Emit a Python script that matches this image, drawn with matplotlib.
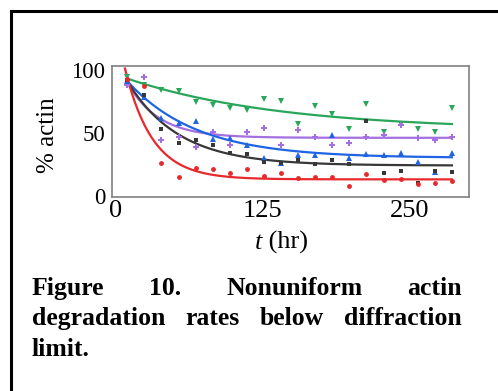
import numpy as np
import matplotlib
matplotlib.use("Agg")
import matplotlib.pyplot as plt
from matplotlib.lines import Line2D

# sampling times (hr)
t = [10, 24.5, 39, 53.5, 68, 82.5, 97, 111.5, 126, 140.5,
     155, 169.5, 184, 198.5, 213, 227.5, 242, 256.5, 271, 285.5]

# % actin remaining
green = [94, 88, 84, 83, 74.5, 72, 70, 68, 77, 75,
         57, 71, 65, 53, 73, 51, 57, 53, 51, 70]
purple = [88, 94, 44, 47, 39, 51, 40, 51, 54, 40,
          52, 47, 40, 42, 47, 48, 56, 46, 44, 47]
blue = [91, 78, 62, 58, 59, 45, 46, 40, 30, 26,
        32, 32, 48, 30, 33, 32, 34, 27, 19, 34]
black = [92, 80, 53, 42, 44, 40, 34, 33, 27, 26,
         28, 25, 28, 25, 59, 18, 20, 10, 20, 19]
red = [93, 87, 26, 15, 22, 21, 18, 21, 16, 18,
       14, 15, 15, 8, 17, 12.5, 13, 9.5, 10, 12]

# exponential fits: plateau, value at t0, rate (1/hr), t0
fit_green = (52, 93, 0.0077, 10)
fit_purple = (46, 90, 0.038, 10)
fit_blue = (30, 91, 0.017, 10)
fit_black = (24, 91, 0.023, 10)
fit_red = (13, 101, 0.043, 8)

series = [
    (green, fit_green, "#2aa65a", "v", 4),
    (purple, fit_purple, "#a46fe0", "P", 4.5),
    (blue, fit_blue, "#1f64e3", "^", 4),
    (black, fit_black, "#383838", "s", 3.5),
    (red, fit_red, "#e8292c", "o", 3.5),
]

plt.rcParams["font.family"] = ["Liberation Serif", "DejaVu Serif"]

fig = plt.figure(figsize=(4.98, 3.91), dpi=100)
W, H = 498, 391

# page frame (top and left edges)
fig.add_artist(Line2D([11 / W, 11 / W], [0, 1 - 11 / H], color="black", lw=2.2,
                      transform=fig.transFigure, solid_capstyle="projecting"))
fig.add_artist(Line2D([11 / W, 1], [1 - 11 / H, 1 - 11 / H], color="black", lw=2.2,
                      transform=fig.transFigure, solid_capstyle="projecting"))

ax = fig.add_axes([112 / W, 1 - 197 / H, (469 - 112) / W, (197 - 66) / H])

for vals, fit, col, mk, ms in series:
    P, y0, k, t0 = fit
    tt = np.linspace(t0, t[-1], 200)
    ax.plot(tt, P + (y0 - P) * np.exp(-k * (tt - t0)), color=col, lw=1.6, zorder=2)
    ax.plot(t, vals, ls="none", marker=mk, ms=ms, color=col, mew=0, zorder=3)

ax.set_xlim(-3, 300)
ax.set_ylim(-1, 103)
ax.set_xticks([0, 125, 250])
ax.set_yticks([0, 50, 100])
ax.tick_params(length=0)
ax.tick_params(axis="x", labelsize=19, pad=2)
ax.tick_params(axis="y", labelsize=16.5, pad=5)
for s in ax.spines.values():
    s.set_color("#808080")
    s.set_linewidth(1.2)

fig.text(48 / W, 1 - 135 / H, "% actin", rotation=90, ha="center", va="center", fontsize=18)

fig.canvas.draw()
r = fig.canvas.get_renderer()

# x label: italic t followed by upright "(hr)"
xl1 = fig.text(255 / W, 1 - 249 / H, "t", fontstyle="italic", fontsize=19,
               ha="left", va="baseline")
w1 = xl1.get_window_extent(r).width
fig.text((255 + w1) / W, 1 - 249 / H, " (hr)", fontsize=19, ha="left", va="baseline")

# justified bold caption
lines = [["Figure", "10.", "Nonuniform", "actin"],
         ["degradation", "rates", "below", "diffraction"],
         ["limit."]]
baselines = [295, 325, 356]
x_left, x_right = 32, 462
for words, base in zip(lines, baselines):
    txts = [fig.text(0, 1 - base / H, w, fontsize=18.5, fontweight="bold",
                     ha="left", va="baseline") for w in words]
    widths = [tx.get_window_extent(r).width for tx in txts]
    if len(words) > 1:
        gap = (x_right - x_left - sum(widths)) / (len(words) - 1)
    else:
        gap = 0
    x = x_left
    for tx, wd in zip(txts, widths):
        tx.set_x(x / W)
        x += wd + gap

fig.savefig("out.png", dpi=100)
